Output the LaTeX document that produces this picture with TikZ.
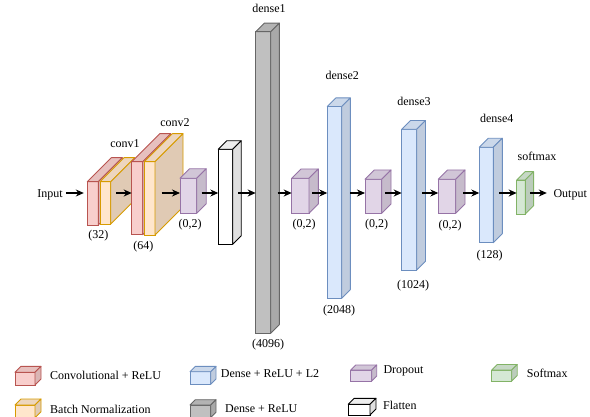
\documentclass[tikz,border=0pt]{standalone}
\usepackage{fontspec}
\setmainfont{Liberation Serif}
\usetikzlibrary{arrows.meta}
\definecolor{redF}{HTML}{F8CECC}\definecolor{redD}{HTML}{B85450}
\definecolor{yelF}{HTML}{FFE6CC}\definecolor{yelD}{HTML}{D79B00}
\definecolor{bluF}{HTML}{DAE8FC}\definecolor{bluD}{HTML}{6C8EBF}
\definecolor{purF}{HTML}{E1D5E7}\definecolor{purD}{HTML}{9673A6}
\definecolor{grnF}{HTML}{D5E8D4}\definecolor{grnD}{HTML}{82B366}
\definecolor{gryF}{HTML}{C0C0C0}\definecolor{gryD}{HTML}{666666}
\definecolor{whtF}{HTML}{FFFFFF}\definecolor{whtD}{HTML}{000000}
% name, x, ytop, w, h, depth, colour key
\newcommand\cuboid[7]{%
  \node[draw=#7D, fill=#7F, line width=0.9pt, minimum width=#4pt, minimum height=#5pt,
        inner sep=0pt, outer sep=0pt, anchor=north west] (#1) at (#2,#3) {};
  \filldraw[draw=#7D, fill=#7F!93!black, line width=0.9pt, line join=round]
    (#1.north west) -- ++(#6,-#6) -- ++(#4,0) -- (#1.north east) -- cycle;
  \filldraw[draw=#7D, fill=#7F!88!black, line width=0.9pt, line join=round]
    (#1.north east) -- ++(#6,-#6) -- ++(0,#5) -- (#1.south east) -- cycle;
}
\begin{document}
\begin{tikzpicture}[x=1pt,y=-1pt,
  every node/.style={font=\fontsize{12pt}{14pt}\selectfont, inner sep=0pt},
  arr/.style={-{Stealth[length=8pt,width=7pt]}, line width=1.1pt},
  lab/.style={anchor=center},
  leg/.style={anchor=west}]
\useasboundingbox (0,0) rectangle (590,417);
\coordinate (ax) at (0,193);

% conv blocks
\cuboid{c1r}{87.3}{181.7}{11}{43.3}{24}{red}
\cuboid{c1y}{100}{181.7}{10.7}{42.3}{24}{yel}
\cuboid{c2r}{131.7}{161.7}{11}{73}{28}{red}
\cuboid{c2y}{144.3}{161.7}{10.7}{73.3}{28}{yel}
% dropout / flatten / dense
\cuboid{d1}{180}{178.3}{16.7}{35}{9.5}{pur}
\cuboid{fl}{218.3}{149.3}{14.4}{95}{8.5}{wht}
\cuboid{de1}{255.7}{31.7}{15}{301.6}{8.6}{gry}
\cuboid{d2}{291.7}{178.3}{17.3}{35}{9.3}{pur}
\cuboid{de2}{327.3}{106.5}{14.4}{191.8}{8.6}{blu}
\cuboid{d3}{365}{179.3}{16.7}{34}{9.3}{pur}
\cuboid{de3}{401.7}{129.3}{15}{140.7}{8.8}{blu}
\cuboid{d4}{438.3}{179.3}{17.4}{34}{9.3}{pur}
\cuboid{de4}{479.3}{147.3}{14}{95.4}{9}{blu}
\cuboid{sm}{516.7}{180}{8.6}{34}{8.3}{grn}

% texts
\node[lab] (in) at (50,195) {Input};
\node[leg] (out) at (553.3,195) {Output};
\node[lab] (tc1) at (125,144) {conv1};
\node[lab] (tc2) at (175,123) {conv2};
\node[lab] (t32) at (98.3,235.5) {(32)};
\node[lab] (t64) at (143.3,246.5) {(64)};
\node[lab] (td1) at (190,224.5) {(0,2)};
\node[lab] (tde1) at (269,8) {dense1};
\node[lab] (t4096) at (268,345) {(4096)};
\node[lab] (td2) at (304,225) {(0,2)};
\node[lab] (tde2) at (342.3,75) {dense2};
\node[lab] (t2048) at (339,311) {(2048)};
\node[lab] (td3) at (376.7,224.5) {(0,2)};
\node[lab] (tde3) at (414,101.5) {dense3};
\node[lab] (t1024) at (413,286) {(1024)};
\node[lab] (td4) at (450,225.5) {(0,2)};
\node[lab] (tde4) at (496.7,118.3) {dense4};
\node[lab] (t128) at (489.5,255.5) {(128)};
\node[lab] (tsm) at (537,156.7) {softmax};

% arrows
\draw[arr] ([xshift=3pt]in.east |- ax) -- ([xshift=-3.5pt]c1r.west |- ax);
\draw[arr] ([xshift=5.3pt]c1y.east |- ax) -- (c2r.west |- ax);
\draw[arr] ([xshift=6.7pt]c2y.east |- ax) -- (d1.west |- ax);
\draw[arr] ([xshift=5pt]d1.east |- ax) -- (fl.west |- ax);
\draw[arr] ([xshift=5.6pt]fl.east |- ax) -- (de1.west |- ax);
\draw[arr] ([xshift=7pt]de1.east |- ax) -- (d2.west |- ax);
\draw[arr] ([xshift=3.3pt]d2.east |- ax) -- (de2.west |- ax);
\draw[arr] ([xshift=8.3pt]de2.east |- ax) -- (d3.west |- ax);
\draw[arr] ([xshift=3.3pt]d3.east |- ax) -- (de3.west |- ax);
\draw[arr] ([xshift=5.6pt]de3.east |- ax) -- (d4.west |- ax);
\draw[arr] ([xshift=7.6pt]d4.east |- ax) -- (de4.west |- ax);
\draw[arr] ([xshift=6pt]de4.east |- ax) -- (sm.west |- ax);
\draw[arr] ([xshift=5pt]sm.east |- ax) -- ([xshift=-6.5pt]out.west |- ax);

% legend
\cuboid{lgr}{15}{372.3}{20}{12.7}{6}{red}
\node[leg] (lgrt) at (50,375) {Convolutional + ReLU};
\cuboid{lgy}{15}{405}{20}{12.7}{6}{yel}
\node[leg] (lgyt) at (50,409) {Batch Normalization};
\cuboid{lgb}{190}{371.7}{20.7}{12.6}{5.3}{blu}
\node[leg] (lgbt) at (220.7,373.3) {Dense + ReLU + L2};
\cuboid{lgg}{190}{405}{20.7}{12.6}{5.3}{gry}
\node[leg] (lggt) at (225,408.3) {Dense + ReLU};
\cuboid{lgp}{350.7}{370}{21}{11}{5}{pur}
\node[leg] (lgpt) at (383.3,370.7) {Dropout};
\cuboid{lgf}{348.3}{404.3}{21.7}{10.7}{6}{wht}
\node[leg] (lgft) at (383,405) {Flatten};
\cuboid{lgs}{491.7}{370}{20}{11}{5.5}{grn}
\node[leg] (lgst) at (526.7,373.3) {Softmax};
\end{tikzpicture}
\end{document}
